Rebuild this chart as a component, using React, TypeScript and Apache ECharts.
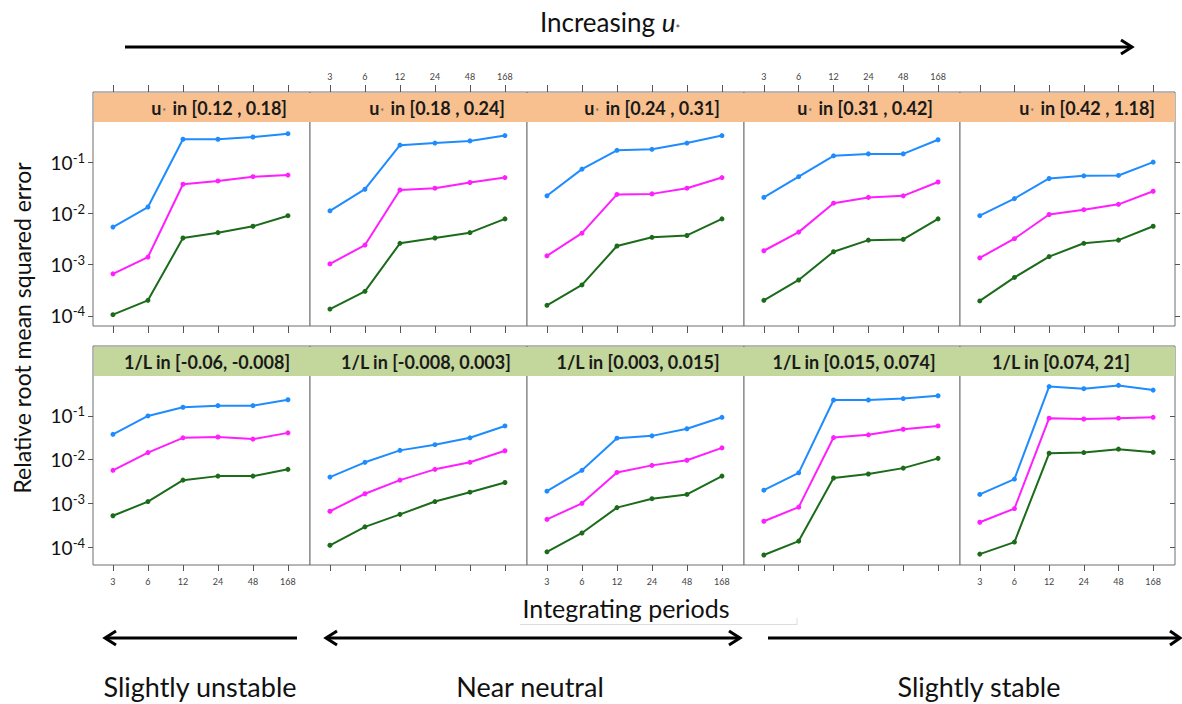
import React, { useEffect, useRef } from "react";
import * as echarts from "echarts";

// ---------------- data ----------------
const periods = ["3", "6", "12", "24", "48", "168"];
const ustarBins = ["[0.12 , 0.18]", "[0.18 , 0.24]", "[0.24 , 0.31]", "[0.31 , 0.42]", "[0.42 , 1.18]"];
const invLBins = ["[-0.06, -0.008]", "[-0.008, 0.003]", "[0.003, 0.015]", "[0.015, 0.074]", "[0.074, 21]"];

const ustarBlue = [
  [0.0054, 0.0133, 0.28, 0.28, 0.31, 0.36],
  [0.0112, 0.0296, 0.215, 0.236, 0.26, 0.33],
  [0.022, 0.073, 0.17, 0.178, 0.236, 0.33],
  [0.0205, 0.052, 0.133, 0.145, 0.145, 0.274],
  [0.009, 0.0194, 0.048, 0.054, 0.055, 0.1],
];
const ustarMagenta = [
  [0.00066, 0.0014, 0.037, 0.043, 0.052, 0.056],
  [0.00103, 0.0024, 0.0286, 0.031, 0.04, 0.05],
  [0.00148, 0.0041, 0.0234, 0.024, 0.031, 0.05],
  [0.00186, 0.0043, 0.0158, 0.0205, 0.022, 0.041],
  [0.00135, 0.0032, 0.0095, 0.0118, 0.015, 0.027],
];
const ustarGreen = [
  [0.000105, 0.0002, 0.0033, 0.0042, 0.0056, 0.009],
  [0.000135, 0.0003, 0.0026, 0.0033, 0.0042, 0.0078],
  [0.00016, 0.0004, 0.0023, 0.0034, 0.0037, 0.0078],
  [0.0002, 0.0005, 0.00178, 0.003, 0.0031, 0.0078],
  [0.000195, 0.00056, 0.00143, 0.0026, 0.003, 0.0056],
];
const invLBlue = [
  [0.038, 0.1, 0.158, 0.172, 0.172, 0.235],
  [0.004, 0.0087, 0.0163, 0.022, 0.0316, 0.059],
  [0.0019, 0.0057, 0.031, 0.035, 0.051, 0.093],
  [0.002, 0.005, 0.232, 0.232, 0.25, 0.29],
  [0.0016, 0.0036, 0.47, 0.42, 0.5, 0.39],
];
const invLMagenta = [
  [0.0057, 0.0145, 0.0316, 0.033, 0.0295, 0.041],
  [0.00066, 0.00166, 0.0034, 0.006, 0.0087, 0.016],
  [0.00043, 0.001, 0.0051, 0.0074, 0.0097, 0.0186],
  [0.00039, 0.00082, 0.032, 0.037, 0.0495, 0.059],
  [0.00037, 0.00076, 0.089, 0.085, 0.089, 0.093],
];
const invLGreen = [
  [0.00052, 0.0011, 0.0034, 0.0042, 0.0042, 0.006],
  [0.00011, 0.00029, 0.00056, 0.0011, 0.0018, 0.003],
  [0.000078, 0.00021, 0.0008, 0.00128, 0.0016, 0.0042],
  [0.000066, 0.000137, 0.0038, 0.0047, 0.0064, 0.0107],
  [0.000069, 0.00013, 0.014, 0.0145, 0.0174, 0.0147],
];
const decadeTicks = [1e-4, 1e-3, 1e-2, 1e-1];

// ---------------- layout / style ----------------
const FONT = "Lato, 'Open Sans', sans-serif";
const COLORS = ["#1E8CFF", "#FF1EFF", "#1B6B1B"];
const panelLeft = [93, 310, 527, 744, 960];
const panelWidth = [217, 217, 217, 216, 215];
const rowTop = [92, 346];
const rowHeight = [234, 219];
const rowMin = [Math.pow(10, -4.2), Math.pow(10, -4.41)];
const rowMax = [Math.pow(10, 0.37), Math.pow(10, 0.6)];
const topHeaderRight = [287, 505, 720, 933, 1155];
const bottomHeaderCenter = [207, 426, 638, 854, 1061];
const xIdx = [0, 1, 2, 3, 4, 5];

function buildOption() {
  const grids: any[] = [];
  const xAxes: any[] = [];
  const yAxes: any[] = [];
  const series: any[] = [];
  const rowsData = [
    [ustarBlue, ustarMagenta, ustarGreen],
    [invLBlue, invLMagenta, invLGreen],
  ];

  for (let r = 0; r < 2; r++) {
    for (let p = 0; p < 5; p++) {
      const g = grids.length;
      grids.push({
        left: panelLeft[p],
        top: rowTop[r],
        width: panelWidth[p],
        height: rowHeight[r],
        show: true,
        borderColor: "#6e6e6e",
        borderWidth: 1,
        backgroundColor: "#ffffff",
      });
      const showBottomLabels = r === 1 && p % 2 === 0;
      const bottomAxisIndex = xAxes.length;
      xAxes.push({
        type: "value",
        gridIndex: g,
        position: "bottom",
        min: -0.57,
        max: 5.63,
        axisLine: { show: false, onZero: false },
        splitLine: { show: false },
        axisTick: {
          show: true,
          customValues: xIdx,
          length: r === 0 ? 7 : 6,
          lineStyle: { color: "#555", width: 1 },
        },
        axisLabel: {
          show: showBottomLabels,
          customValues: xIdx,
          formatter: (v: number) => periods[Math.round(v)],
          fontSize: 9,
          color: "#444",
          fontFamily: FONT,
          margin: 12,
        },
      });
      if (r === 0) {
        xAxes.push({
          type: "value",
          gridIndex: g,
          position: "top",
          min: -0.57,
          max: 5.63,
          axisLine: { show: false, onZero: false },
          splitLine: { show: false },
          axisTick: {
            show: true,
            customValues: xIdx,
            length: 7,
            lineStyle: { color: "#555", width: 1 },
          },
          axisLabel: {
            show: p === 1 || p === 3,
            customValues: xIdx,
            formatter: (v: number) => periods[Math.round(v)],
            fontSize: 9,
            color: "#444",
            fontFamily: FONT,
            margin: 11,
          },
        });
      }
      const isFirst = p === 0;
      const isLast = p === 4;
      yAxes.push({
        type: "log",
        logBase: 10,
        gridIndex: g,
        position: isLast ? "right" : "left",
        min: rowMin[r],
        max: rowMax[r],
        axisLine: { show: false, onZero: false },
        splitLine: { show: false },
        minorTick: { show: false },
        axisTick: {
          show: isFirst || isLast,
          customValues: decadeTicks,
          length: 5,
          inside: isLast && r === 1,
          lineStyle: { color: "#555", width: 1 },
        },
        axisLabel: {
          show: isFirst,
          customValues: decadeTicks,
          margin: 8,
          formatter: (v: number) => `{b|10}{s|-${Math.round(-Math.log10(v))}}`,
          rich: {
            b: { fontSize: 19, fontFamily: FONT, color: "#111", lineHeight: 22 },
            s: { fontSize: 13, fontFamily: FONT, color: "#111", verticalAlign: "top", lineHeight: 14 },
          },
        },
      });
      const yIndex = yAxes.length - 1;
      rowsData[r].forEach((set, k) => {
        series.push({
          type: "line",
          xAxisIndex: bottomAxisIndex,
          yAxisIndex: yIndex,
          data: set[p].map((v, i) => [xIdx[i], v]),
          symbol: "circle",
          symbolSize: 5,
          showSymbol: true,
          lineStyle: { color: COLORS[k], width: 2 },
          itemStyle: { color: COLORS[k] },
          z: 3,
        });
      });
    }
  }

  const graphic: any[] = [];
  // header bands
  graphic.push({
    type: "rect",
    shape: { x: 94, y: 93, width: 1081, height: 29 },
    style: { fill: "#F9C08F" },
    z: 50,
  });
  graphic.push({
    type: "rect",
    shape: { x: 94, y: 347, width: 1081, height: 29 },
    style: { fill: "#C3D69B" },
    z: 50,
  });
  ustarBins.forEach((b, p) => {
    graphic.push({
      type: "text",
      x: topHeaderRight[p],
      y: 108,
      z: 51,
      style: {
        text: `{b|u}{s|*}{b| in ${b}}`,
        align: "right",
        verticalAlign: "middle",
        rich: {
          b: { fontSize: 18, fontWeight: "bold", fontFamily: FONT, fill: "#1a1a1a" },
          s: { fontSize: 9, fontFamily: FONT, fill: "#555", padding: [7, 2, 0, 1] },
        },
      },
    });
  });
  invLBins.forEach((b, p) => {
    graphic.push({
      type: "text",
      x: bottomHeaderCenter[p],
      y: 362,
      z: 51,
      style: {
        text: `1/L in ${b}`,
        align: "center",
        verticalAlign: "middle",
        font: `bold 18px ${FONT}`,
        fill: "#1a1a1a",
      },
    });
  });

  // top title + arrow
  graphic.push({
    type: "text",
    x: 610,
    y: 22,
    style: {
      text: "{n|Increasing }{i|u}{s|*}",
      align: "center",
      verticalAlign: "middle",
      rich: {
        n: { fontSize: 26, fontFamily: FONT, fill: "#111" },
        i: { fontSize: 26, fontFamily: FONT, fontStyle: "italic", fill: "#111" },
        s: { fontSize: 11, fontFamily: FONT, fill: "#333", padding: [12, 0, 0, 0] },
      },
    },
  });
  const arrowStyle = { stroke: "#000", lineWidth: 3, fill: "none" };
  graphic.push({ type: "line", shape: { x1: 125, y1: 47, x2: 1131, y2: 47 }, style: arrowStyle });
  graphic.push({ type: "polyline", shape: { points: [[1121, 40], [1132, 47], [1121, 54]] }, style: arrowStyle });

  // y axis title
  graphic.push({
    type: "text",
    x: 22,
    y: 328,
    rotation: Math.PI / 2,
    style: {
      text: "Relative root mean squared error",
      align: "center",
      verticalAlign: "middle",
      font: `23px ${FONT}`,
      fill: "#111",
    },
  });

  // x axis title
  graphic.push({
    type: "text",
    x: 626,
    y: 608,
    style: {
      text: "Integrating periods",
      align: "center",
      verticalAlign: "middle",
      font: `25px ${FONT}`,
      fill: "#111",
    },
  });
  graphic.push({
    type: "line",
    shape: { x1: 520, y1: 624.5, x2: 797, y2: 624.5 },
    style: { stroke: "#dddddd", lineWidth: 1 },
  });
  graphic.push({
    type: "line",
    shape: { x1: 797, y1: 618, x2: 797, y2: 625 },
    style: { stroke: "#dddddd", lineWidth: 1 },
  });

  // bottom arrows
  const ay = 638;
  graphic.push({ type: "line", shape: { x1: 106, y1: ay, x2: 297, y2: ay }, style: arrowStyle });
  graphic.push({ type: "polyline", shape: { points: [[116, ay - 7], [105, ay], [116, ay + 7]] }, style: arrowStyle });
  graphic.push({ type: "line", shape: { x1: 327, y1: ay, x2: 739, y2: ay }, style: arrowStyle });
  graphic.push({ type: "polyline", shape: { points: [[337, ay - 7], [326, ay], [337, ay + 7]] }, style: arrowStyle });
  graphic.push({ type: "polyline", shape: { points: [[729, ay - 7], [740, ay], [729, ay + 7]] }, style: arrowStyle });
  graphic.push({ type: "line", shape: { x1: 768, y1: ay, x2: 1179, y2: ay }, style: arrowStyle });
  graphic.push({ type: "polyline", shape: { points: [[1170, ay - 7], [1180, ay], [1170, ay + 7]] }, style: arrowStyle });

  const regimeLabels = [
    ["Slightly unstable", 200],
    ["Near neutral", 530],
    ["Slightly stable", 979],
  ];
  regimeLabels.forEach(([t, x]) => {
    graphic.push({
      type: "text",
      x: x as number,
      y: 686,
      style: {
        text: t as string,
        align: "center",
        verticalAlign: "middle",
        font: `27px ${FONT}`,
        fill: "#111",
      },
    });
  });

  return {
    animation: false,
    backgroundColor: "#ffffff",
    grid: grids,
    xAxis: xAxes,
    yAxis: yAxes,
    series,
    graphic,
  };
}

export default function App() {
  const ref = useRef<HTMLDivElement>(null);
  useEffect(() => {
    if (!ref.current) return;
    const chart = echarts.init(ref.current, undefined, { renderer: "svg" });
    chart.setOption(buildOption() as any);
    return () => chart.dispose();
  }, []);
  return (
    <div
      ref={ref}
      style={{ position: "fixed", left: 0, top: 0, width: 1182, height: 704, background: "#fff" }}
    />
  );
}
